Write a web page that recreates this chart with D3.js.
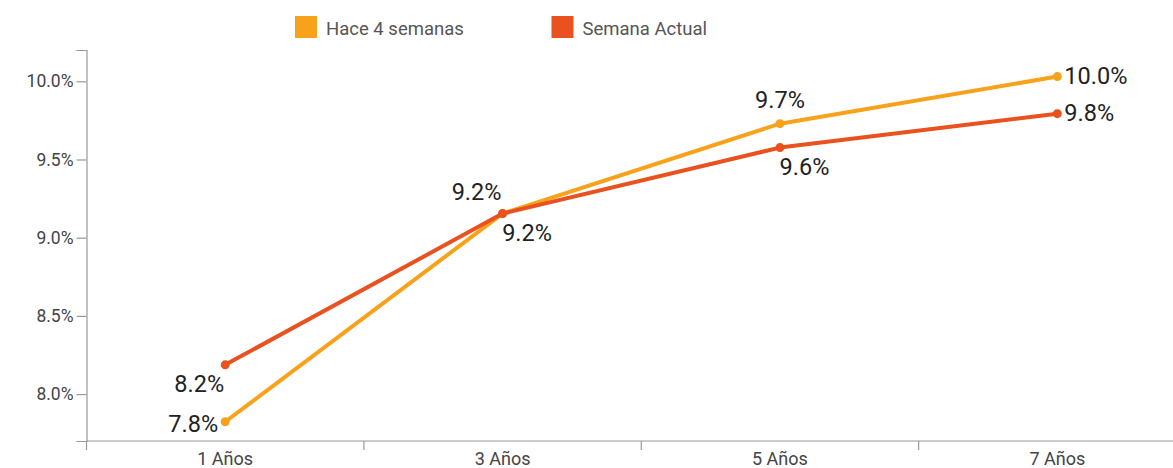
<!DOCTYPE html>
<html>
<head>
<meta charset="utf-8">
<script src="https://cdn.jsdelivr.net/npm/d3@7"></script>
<style>
  body { margin: 0; background: #fff; }
  svg { display: block; font-family: Roboto, sans-serif; }
</style>
</head>
<body>
<div id="chart"></div>
<script>
const categories = ["1 Años", "3 Años", "5 Años", "7 Años"];
const seriesNames = ["Hace 4 semanas", "Semana Actual"];
const hace4Semanas = [7.823, 9.154, 9.729, 10.03];
const semanaActual = [8.187, 9.154, 9.576, 9.793];
const yTicks = [8.0, 8.5, 9.0, 9.5, 10.0];
// where each value label sits relative to its point
const labelPlace = [
  ["left", "below-right", "above", "right"],
  ["below-left", "above-left", "below-right", "right"]
];

const width = 1173, height = 468;
const colors = ["#F8A21C", "#E9511F"];

const svg = d3.select("#chart").append("svg")
  .attr("width", width)
  .attr("height", height);

const x = d3.scaleBand().domain(categories).range([86.5, 1196]);
const y = d3.scaleLinear().domain([7.7, 10.2]).range([441, 50]);

// x axis
const xAxis = svg.append("g")
  .attr("transform", `translate(0,${y(7.7)})`);
xAxis.append("line")
  .attr("x1", x.range()[0]).attr("x2", width)
  .attr("stroke", "#999").attr("stroke-width", 1.2);
xAxis.selectAll("line.tick")
  .data(categories)
  .join("line")
  .attr("class", "tick")
  .attr("x1", d => x(d)).attr("x2", d => x(d))
  .attr("y1", 0).attr("y2", 9)
  .attr("stroke", "#999").attr("stroke-width", 1.2);
xAxis.selectAll("text")
  .data(categories)
  .join("text")
  .attr("x", d => x(d) + x.bandwidth() / 2)
  .attr("y", 24)
  .attr("text-anchor", "middle")
  .attr("font-size", 18)
  .attr("fill", "#444")
  .text(d => d);

// y axis
const yAxis = svg.append("g")
  .attr("transform", `translate(${x.range()[0]},0)`)
  .call(d3.axisLeft(y).tickValues(yTicks).tickSize(10).tickPadding(3)
    .tickFormat(d => d3.format(".1f")(d) + "%"));
yAxis.select(".domain").attr("stroke", "#999").attr("stroke-width", 1.2);
yAxis.selectAll(".tick line").attr("stroke", "#999").attr("stroke-width", 1.2);
yAxis.selectAll(".tick text")
  .attr("font-size", 17.5)
  .attr("font-family", "Roboto, sans-serif")
  .attr("fill", "#444");

// lines
const series = [hace4Semanas, semanaActual];
const line = d3.line()
  .x((d, i) => x(categories[i]) + x.bandwidth() / 2)
  .y(d => y(d));

series.forEach((values, s) => {
  const g = svg.append("g");
  g.append("path")
    .datum(values)
    .attr("d", line)
    .attr("fill", "none")
    .attr("stroke", colors[s])
    .attr("stroke-width", 4)
    .attr("stroke-linejoin", "round");
  g.selectAll("circle")
    .data(values)
    .join("circle")
    .attr("cx", (d, i) => x(categories[i]) + x.bandwidth() / 2)
    .attr("cy", d => y(d))
    .attr("r", 4.5)
    .attr("fill", colors[s]);
});

// value labels
const offsets = {
  "left": [-7, 10, "end"],
  "right": [7, 7, "start"],
  "above": [0, -16, "middle"],
  "below-left": [-26, 27, "middle"],
  "below-right": [24.5, 27.5, "middle"],
  "above-left": [-26, -14, "middle"]
};
series.forEach((values, s) => {
  svg.append("g").selectAll("text")
    .data(values)
    .join("text")
    .attr("x", (d, i) => x(categories[i]) + x.bandwidth() / 2 + offsets[labelPlace[s][i]][0])
    .attr("y", (d, i) => y(d) + offsets[labelPlace[s][i]][1])
    .attr("text-anchor", (d, i) => offsets[labelPlace[s][i]][2])
    .attr("font-size", 23.5)
    .attr("fill", "#222")
    .text(d => d3.format(".1f")(d) + "%");
});

// legend
const legend = svg.append("g").attr("transform", "translate(295,16)");
const legendX = [0, 256.5];
seriesNames.forEach((name, s) => {
  legend.append("rect")
    .attr("x", legendX[s]).attr("y", 0)
    .attr("width", 22).attr("height", 22)
    .attr("fill", colors[s]);
  legend.append("text")
    .attr("x", legendX[s] + 31).attr("y", 18.5)
    .attr("font-size", 18.5)
    .attr("fill", "#555")
    .text(name);
});
</script>
</body>
</html>
